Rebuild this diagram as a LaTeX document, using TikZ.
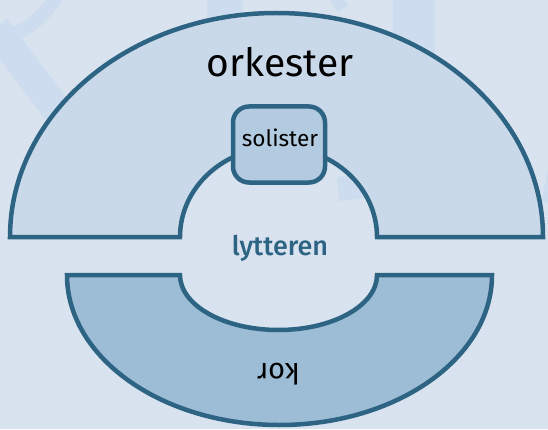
\documentclass[tikz,border=0pt]{standalone}
\usepackage{fontspec}
\setmainfont{Fira Sans}
\newfontfamily\firamed{Fira Sans Medium}
\definecolor{bgc}{HTML}{D9E3EF}
\definecolor{wmc}{HTML}{CDDCEE}
\definecolor{edgec}{HTML}{2D6383}
\definecolor{upc}{HTML}{C9D9E9}
\definecolor{lowc}{HTML}{9DBCD6}
\definecolor{boxc}{HTML}{B3CBE0}
\begin{document}
\begin{tikzpicture}[x=1pt,y=1pt,
  outline/.style={draw=edgec, line width=4.5pt},
  wm/.style={draw=wmc, line width=36pt},
  lbl/.style={inner sep=0pt, anchor=base}]
\useasboundingbox (0,0) rectangle (548,429);
\fill[bgc] (0,0) rectangle (548,429);
% faint watermark letters
\begin{scope}
\clip (0,0) rectangle (548,429);
\draw[wm, line width=14pt] (0,391) .. controls (25,395) and (45,414) .. (58,434);
\draw[wm, line width=30pt] (-5,401) -- (80,289);
\draw[wm] (225,440) -- (225,300);
\draw[wm, line width=42pt] (414,440) -- (414,300);
\draw[wm, line width=24pt] (414,300) .. controls (412,262) and (388,244) .. (338,240);
\draw[wm, line width=12pt] (330,440) -- (343,420);
\draw[wm, line width=14pt] (556,262) -- (548,226);
\end{scope}
% orkester (upper half ring)
\draw[outline, fill=upc] (10,192) arc[start angle=180, end angle=0, x radius=266.5, y radius=224]
  -- (377,192) arc[start angle=0, end angle=180, x radius=98.5, y radius=90] -- cycle;
% kor (lower half ring)
\draw[outline, fill=lowc] (67,154) arc[start angle=180, end angle=360, x radius=212.5, y radius=150]
  -- (377,154) arc[start angle=0, end angle=-180, x radius=98.5, y radius=55] -- cycle;
% solister box
\node[outline, fill=boxc, rounded corners=16pt, minimum width=92pt, minimum height=76pt, inner sep=0pt] (sol) at (279,284.5) {};
\node[lbl, font=\fontsize{22.6}{26}\selectfont] (soltxt) at (280,282) {solister};
\node[lbl, font=\fontsize{39}{44}\selectfont] (ork) at (280,352) {orkester};
\node[lbl, text=edgec, font=\firamed\fontsize{27}{32}\selectfont] (lyt) at (280,174) {lytteren};
\node[lbl, rotate=180, font=\fontsize{29}{34}\selectfont] (kor) at (278.5,66) {kor};
\end{tikzpicture}
\end{document}
